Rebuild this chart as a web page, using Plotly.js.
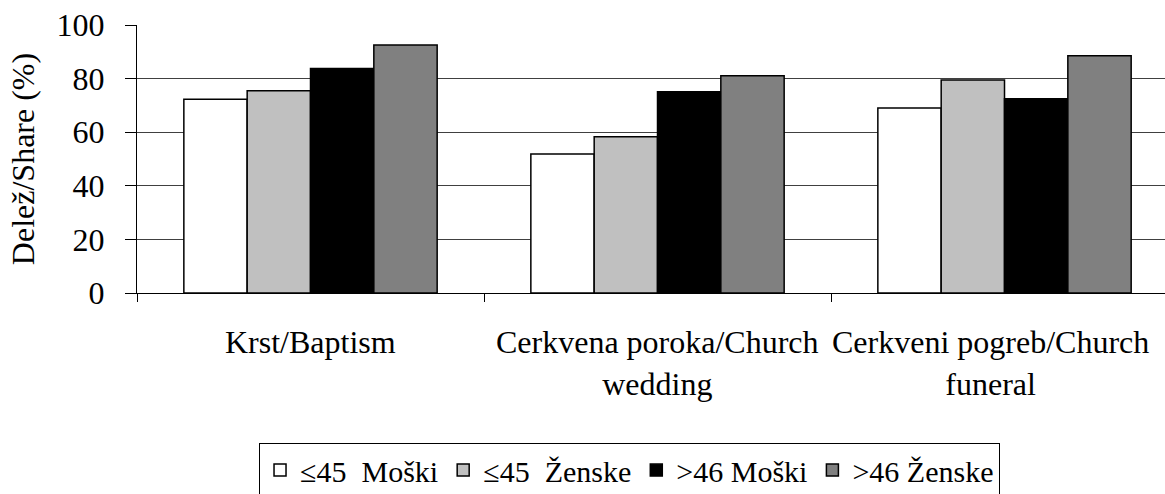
<!DOCTYPE html>
<html>
<head>
<meta charset="utf-8">
<script src="https://cdn.plot.ly/plotly-3.0.1.min.js"></script>
<style>
html,body{margin:0;padding:0;background:#fff;overflow:hidden;}
#chart{width:1165px;height:494px;}
</style>
</head>
<body>
<div id="chart"></div>
<script>
const categories = ['Krst/Baptism', 'Cerkvena poroka/Church wedding', 'Cerkveni pogreb/Church funeral'];
const categoryLabels = ['Krst/Baptism', 'Cerkvena poroka/Church<br>wedding', 'Cerkveni pogreb/Church<br>funeral'];
const seriesNames = ['≤45\u00a0\u00a0Moški', '≤45\u00a0\u00a0Ženske', '>46 Moški', '>46 Ženske'];
const men45 = [72.3, 51.9, 69.0];
const women45 = [75.5, 58.3, 79.5];
const men46 = [83.8, 75.1, 72.5];
const women46 = [92.5, 81.1, 88.5];
const yTicks = [0, 20, 40, 60, 80, 100];
const seriesColors = ['#ffffff', '#c0c0c0', '#000000', '#808080'];

const FONT = 'Liberation Serif';
const values = [men45, women45, men46, women46];

const traces = values.map((v, i) => ({
  type: 'bar',
  name: seriesNames[i],
  x: categories,
  y: v,
  marker: {color: seriesColors[i], line: {color: '#000', width: 1.5}},
  hoverinfo: 'none'
}));

const labelShift = [0, 0, -14];
const annotations = categories.map((c, i) => ({
  x: c, xref: 'x', y: -0.11, yref: 'paper',
  text: categoryLabels[i], showarrow: false,
  xanchor: 'center', yanchor: 'top', xshift: labelShift[i],
  font: {family: FONT, size: 32, color: '#000'}
}));

const layout = {
  width: 1165, height: 494,
  margin: {l: 137, r: 0, t: 25, b: 201, pad: 0, autoexpand: false},
  paper_bgcolor: '#fff', plot_bgcolor: '#fff',
  font: {family: FONT, size: 32, color: '#000'},
  barmode: 'group', bargap: 0.27, bargroupgap: 0,
  showlegend: true,
  hovermode: false,
  legend: {
    orientation: 'h', x: 0.1187, xanchor: 'left', y: -0.56, yanchor: 'top',
    bordercolor: '#000', borderwidth: 1, bgcolor: '#fff',
    font: {family: FONT, size: 30, color: '#000'},
    itemwidth: 30, traceorder: 'normal'
  },
  xaxis: {
    type: 'category', range: [-0.5, 2.4625], fixedrange: true,
    showticklabels: false, tickson: 'boundaries', ticks: 'outside', ticklen: 8,
    tickcolor: '#000', tickwidth: 1,
    tickfont: {family: FONT, size: 32, color: '#000'},
    showline: true, linecolor: '#000', linewidth: 1, showgrid: false, zeroline: false
  },
  yaxis: {
    range: [0, 100], tickvals: yTicks, ticks: 'outside', ticklen: 11, tickcolor: '#000', tickwidth: 1,
    ticklabelstandoff: 14,
    showline: true, linecolor: '#000', linewidth: 1,
    showgrid: true, gridcolor: '#404040', gridwidth: 1, zeroline: false,
    tickfont: {family: FONT, size: 32, color: '#000'},
    title: {text: 'Delež/Share (%)', font: {family: FONT, size: 32, color: '#000'}, standoff: 12},
    fixedrange: true
  },
  annotations: annotations
};

Plotly.newPlot('chart', traces, layout, {displayModeBar: false});
</script>
</body>
</html>
